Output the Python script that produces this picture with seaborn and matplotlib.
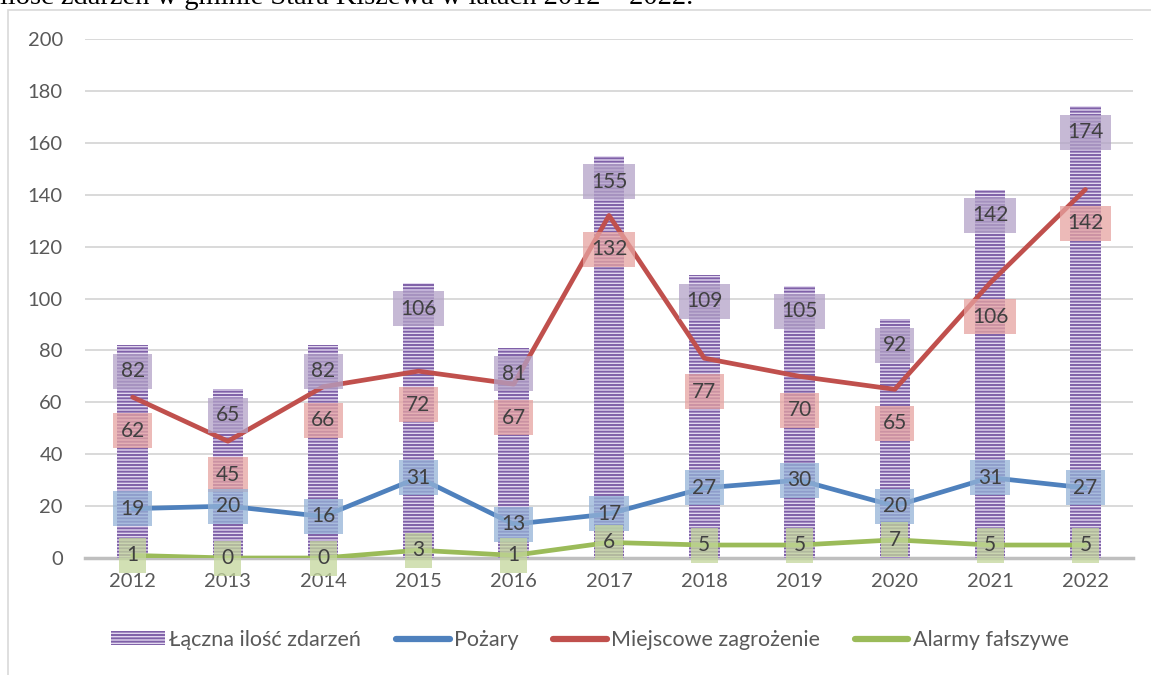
import numpy as np
import pandas as pd
import matplotlib
matplotlib.use("Agg")
import matplotlib.pyplot as plt
import matplotlib.patches as mpatches
from matplotlib.lines import Line2D
import seaborn as sns

years = ["2012", "2013", "2014", "2015", "2016", "2017", "2018", "2019", "2020", "2021", "2022"]
total = [82, 65, 82, 106, 81, 155, 109, 105, 92, 142, 174]
fires = [19, 20, 16, 31, 13, 17, 27, 30, 20, 31, 27]
local_threats = [62, 45, 66, 72, 67, 132, 77, 70, 65, 106, 142]
false_alarms = [1, 0, 0, 3, 1, 6, 5, 5, 7, 5, 5]

series_names = ["Łączna ilość zdarzeń", "Pożary", "Miejscowe zagrożenie", "Alarmy fałszywe"]
yticks = [0, 20, 40, 60, 80, 100, 120, 140, 160, 180, 200]

sns.set_theme(style="white")
plt.rcParams["font.family"] = ["Lato", "DejaVu Sans"]
plt.rcParams["hatch.linewidth"] = 1.4

fig = plt.figure(figsize=(11.51, 6.75), dpi=100)
ax = fig.add_axes([85 / 1151, 117 / 675, 1048 / 1151, 519 / 675])

df = pd.DataFrame({"year": years, "total": total, "fires": fires,
                   "local": local_threats, "false": false_alarms})
df["pos"] = np.arange(len(df))

bar_face = "#e2d8ef"
bar_hatch = "#7f60a8"
sns.barplot(data=df, x="year", y="total", order=years, ax=ax, width=0.32,
            color=bar_face, saturation=1, zorder=2)
for p in ax.patches:
    p.set_facecolor(bar_face)
    p.set_edgecolor(bar_hatch)
    p.set_linewidth(0)
    p.set_hatch("-----")

line_colors = {"fires": "#4f81bd", "local": "#c0504d", "false": "#9bbb59"}
for key in ["fires", "local", "false"]:
    sns.lineplot(data=df, x="pos", y=key, ax=ax, color=line_colors[key],
                 linewidth=3.4, zorder=3, legend=False)

ax.set_xlim(-0.5, len(years) - 0.5)
ax.set_ylim(0, 200)
ax.set_yticks(yticks)
ax.set_xticks(np.arange(len(years)))
ax.set_xticklabels(years)
ax.set_xlabel("")
ax.set_ylabel("")
ax.grid(axis="y", color="#d9d9d9", linewidth=1.4, zorder=0)
ax.set_axisbelow(True)
for s in ["top", "right", "left"]:
    ax.spines[s].set_visible(False)
ax.spines["bottom"].set_color("#bfbfbf")
ax.spines["bottom"].set_linewidth(2.5)
ax.spines["bottom"].set_zorder(1)
ax.tick_params(axis="both", length=0, labelsize=14.5, colors="#595959")
ax.tick_params(axis="x", pad=11)
ax.tick_params(axis="y", pad=16)

def label(x, y, txt, color):
    ax.text(x, y, txt, ha="center", va="center", fontsize=15, color="#404040", zorder=5,
            bbox=dict(boxstyle="square,pad=0.36", facecolor=color, edgecolor="none", alpha=0.75))

for i in range(len(years)):
    label(i, total[i] - 10, str(total[i]), "#b3a2c7")
    label(i, local_threats[i] - 13, str(local_threats[i]), "#e6a3a1")
    label(i, fires[i], str(fires[i]), "#95b3d7")
    label(i, false_alarms[i], str(false_alarms[i]), "#c3d69b")

# legend
handles = [
    mpatches.Patch(facecolor=bar_face, edgecolor=bar_hatch, hatch="-----", linewidth=0),
    Line2D([0], [0], color=line_colors["fires"], linewidth=4.5, solid_capstyle="round"),
    Line2D([0], [0], color=line_colors["local"], linewidth=4.5, solid_capstyle="round"),
    Line2D([0], [0], color=line_colors["false"], linewidth=4.5, solid_capstyle="round"),
]
leg = fig.legend(handles, series_names, loc="center", bbox_to_anchor=(0.5126, 0.052), ncol=4,
                 frameon=False, fontsize=15.5, handlelength=2.5, handletextpad=0.2,
                 columnspacing=1.6, handleheight=0.6)
for t in leg.get_texts():
    t.set_color("#595959")

# outer chart frame
fig.patches.append(mpatches.Rectangle((8 / 1151, -0.1), 1.2, 1.1 - 10 / 675,
                                      transform=fig.transFigure, fill=False,
                                      edgecolor="#d9d9d9", linewidth=1.2))
# cut-off caption above
fig.text(0.0, 1 - 4 / 675, "ilość zdarzeń w gminie Stara Kiszewa w latach 2012 – 2022.",
         ha="left", va="baseline", fontsize=20.5, family=["Liberation Serif", "DejaVu Serif"],
         color="black")

fig.savefig("out.png", dpi=100)
